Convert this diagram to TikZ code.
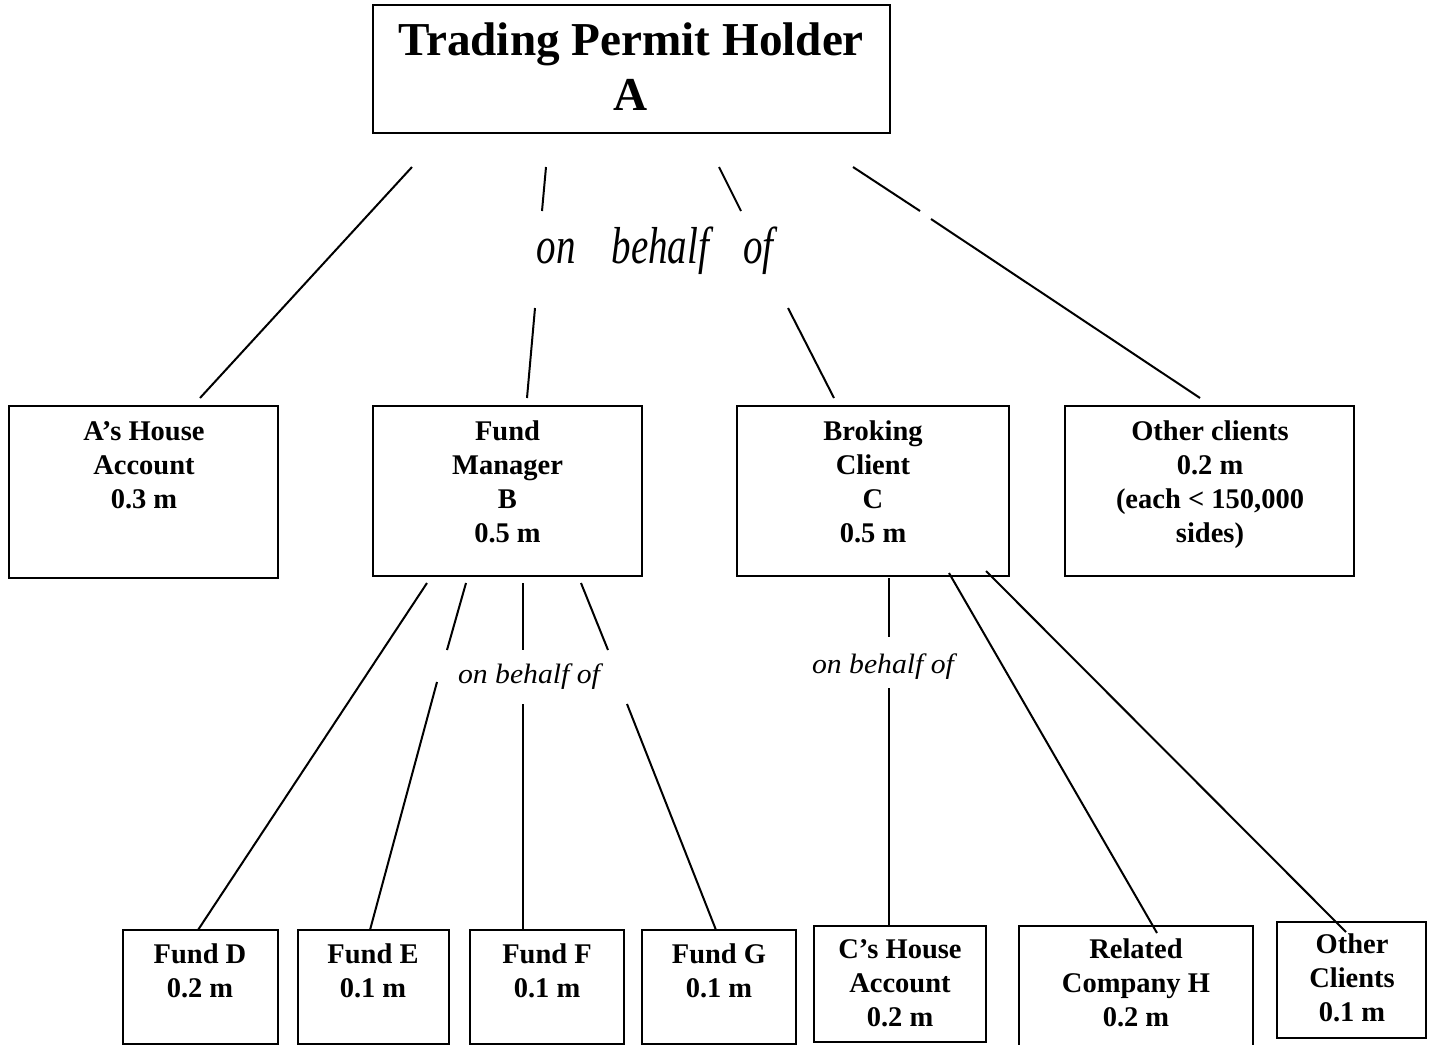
\documentclass[tikz,border=0pt]{standalone}
\usepackage{fontspec}
\setmainfont{Liberation Serif}
\newfontfamily\bigitfont{Liberation Serif}[FakeStretch=0.75]
\newfontfamily\smallitfont{Liberation Serif}[FakeStretch=1.06]
\usetikzlibrary{fit}
\begin{document}
\begin{tikzpicture}[x=0.5pt,y=-0.5pt,
  box/.style={draw, inner sep=0pt, line width=1pt},
  txt/.style={font=\fontsize{14.25}{17}\selectfont\bfseries, align=center, inner sep=0pt, anchor=base},
  ttl/.style={font=\fontsize{23.6}{27.5}\selectfont\bfseries, align=center, inner sep=0pt, anchor=base},
  bigobo/.style={font=\bigitfont\itshape\fontsize{26}{30}\selectfont, inner sep=0pt, anchor=base},
  smallobo/.style={font=\smallitfont\itshape\fontsize{14}{17}\selectfont, inner sep=0pt, anchor=base},
  ln/.style={line width=1pt}]
\useasboundingbox (0,0) rectangle (1437,1045);
\clip (0,0) rectangle (1437,1045);
% boxes
\node[box, fit={(373,5) (890,133)}] (A) {};
\node[box, fit={(9,406) (278,578)}] (AH) {};
\node[box, fit={(373,406) (642,576)}] (FM) {};
\node[box, fit={(737,406) (1009,576)}] (BC) {};
\node[box, fit={(1065,406) (1354,576)}] (OC) {};
\node[box, fit={(123,930) (278,1044)}] (FD) {};
\node[box, fit={(298,930) (449,1044)}] (FE) {};
\node[box, fit={(470,930) (624,1044)}] (FF) {};
\node[box, fit={(642,930) (796,1044)}] (FG) {};
\node[box, fit={(814,926) (986,1042)}] (CH) {};
\node[box, fit={(1019,926) (1253,1060)}] (RH) {};
\node[box, fit={(1277,922) (1426,1038)}] (OT) {};
% texts (anchored at the baseline of the last line)
\node[ttl] (At) at (631,110) {Trading Permit Holder\\A};
\node[txt] (AHt) at (144,508) {A’s House\\Account\\0.3 m};
\node[txt] (FMt) at (507.5,542) {Fund\\Manager\\B\\0.5 m};
\node[txt] (BCt) at (873,542) {Broking\\Client\\C\\0.5 m};
\node[txt] (OCt) at (1210,542) {Other clients\\0.2 m\\(each < 150,000\\sides)};
\node[txt] (FDt) at (200,997) {Fund D\\0.2 m};
\node[txt] (FEt) at (373,997) {Fund E\\0.1 m};
\node[txt] (FFt) at (547,997) {Fund F\\0.1 m};
\node[txt] (FGt) at (719,997) {Fund G\\0.1 m};
\node[txt] (CHt) at (900,1026) {C’s House\\Account\\0.2 m};
\node[txt] (RHt) at (1136,1026) {Related\\Company H\\0.2 m};
\node[txt] (OTt) at (1352,1021) {Other\\Clients\\0.1 m};
\node[bigobo] (obo1) at (655,263) {on\hspace{18pt}behalf\hspace{17pt}of};
\node[smallobo] (obo2) at (529,683) {on behalf of};
\node[smallobo] (obo3) at (883,673) {on behalf of};
% connector end points
\coordinate (p1a) at (412,167); \coordinate (p1b) at (200,398);
\coordinate (p2a) at (546,167); \coordinate (p2b) at (542,211);
\coordinate (p2c) at (535,308); \coordinate (p2d) at (527,398);
\coordinate (p3a) at (719,167); \coordinate (p3b) at (741,211);
\coordinate (p3c) at (788,308); \coordinate (p3d) at (834,398);
\coordinate (p4a) at (853,167); \coordinate (p4b) at (920,211);
\coordinate (p4c) at (931,219); \coordinate (p4d) at (1200,398);
\coordinate (qa1) at (427,583); \coordinate (qa2) at (198,930);
\coordinate (qb1) at (466,583); \coordinate (qb2) at (447,650);
\coordinate (qb3) at (437,682); \coordinate (qb4) at (370,930);
\coordinate (qc1) at (523,583); \coordinate (qc2) at (523,650);
\coordinate (qc3) at (523,704); \coordinate (qc4) at (523,930);
\coordinate (qd1) at (581,583); \coordinate (qd2) at (608,650);
\coordinate (qd3) at (627,704); \coordinate (qd4) at (716,930);
\coordinate (re1) at (889,578); \coordinate (re2) at (889,637);
\coordinate (re3) at (889,688); \coordinate (re4) at (889,926);
\coordinate (rf1) at (949,573); \coordinate (rf2) at (1157,933);
\coordinate (rg1) at (986,571); \coordinate (rg2) at (1346,932);
% connectors
\draw[ln] (p1a) -- (p1b);
\draw[ln] (p2a) -- (p2b); \draw[ln] (p2c) -- (p2d);
\draw[ln] (p3a) -- (p3b); \draw[ln] (p3c) -- (p3d);
\draw[ln] (p4a) -- (p4b); \draw[ln] (p4c) -- (p4d);
\draw[ln] (qa1) -- (qa2);
\draw[ln] (qb1) -- (qb2); \draw[ln] (qb3) -- (qb4);
\draw[ln] (qc1) -- (qc2); \draw[ln] (qc3) -- (qc4);
\draw[ln] (qd1) -- (qd2); \draw[ln] (qd3) -- (qd4);
\draw[ln] (re1) -- (re2); \draw[ln] (re3) -- (re4);
\draw[ln] (rf1) -- (rf2);
\draw[ln] (rg1) -- (rg2);
\end{tikzpicture}
\end{document}
